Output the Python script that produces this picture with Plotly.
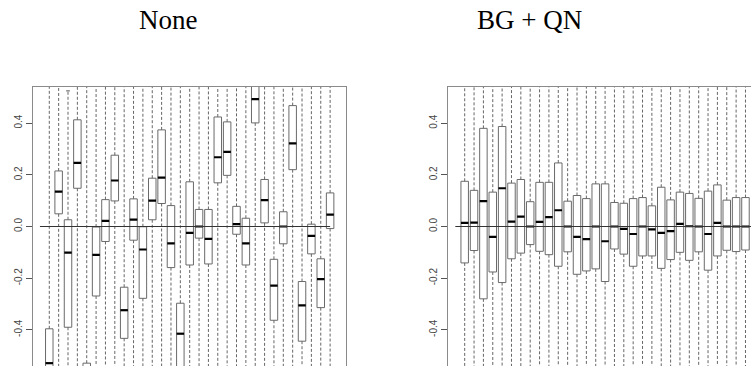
import plotly.graph_objects as go

# ---------------- data ----------------
samples = list(range(1, 32))

# Panel "None"
q3_none = [-0.396, 0.215, 0.026, 0.413, -0.529, -0.002, 0.104, 0.276, -0.235, 0.107,
           -0.001, 0.187, 0.374, 0.081, -0.297, 0.173, 0.066, 0.066, 0.424, 0.405,
           0.078, 0.032, 0.600, 0.182, -0.127, 0.057, 0.468, -0.213, 0.009, -0.125, 0.130]
med_none = [-0.529, 0.135, -0.101, 0.246, -0.600, -0.110, 0.022, 0.178, -0.324, 0.027,
            -0.089, 0.100, 0.189, -0.065, -0.415, -0.025, 0.000, -0.048, 0.268, 0.289,
            0.009, -0.065, 0.493, 0.102, -0.229, 0.000, 0.322, -0.305, -0.036, -0.204, 0.046]
q1_none = [-0.620, 0.049, -0.390, 0.148, -0.680, -0.269, -0.058, 0.099, -0.433, -0.053,
           -0.278, 0.026, 0.089, -0.159, -0.580, -0.149, -0.045, -0.145, 0.169, 0.198,
           -0.030, -0.149, 0.401, 0.014, -0.363, -0.067, 0.220, -0.444, -0.106, -0.314, -0.008]
hi_none = [0.70, 0.75, 0.525, 0.80, 0.65, 0.72, 0.70, 0.78, 0.66, 0.70,
           0.72, 0.74, 0.80, 0.70, 0.62, 0.76, 0.70, 0.71, 0.82, 0.80,
           0.70, 0.72, 0.90, 0.74, 0.66, 0.70, 0.84, 0.64, 0.70, 0.66, 0.72]
lo_none = [-0.90, -0.70, -0.80, -0.66, -0.95, -0.75, -0.70, -0.64, -0.85, -0.70,
           -0.78, -0.66, -0.64, -0.72, -0.90, -0.74, -0.70, -0.72, -0.62, -0.62,
           -0.70, -0.72, -0.60, -0.66, -0.80, -0.70, -0.62, -0.86, -0.70, -0.78, -0.68]

# Panel "BG + QN"
q3_bg = [0.175, 0.140, 0.380, 0.133, 0.387, 0.168, 0.182, 0.096, 0.171, 0.171,
         0.246, 0.098, 0.120, 0.108, 0.165, 0.165, 0.093, 0.090, 0.108, 0.112,
         0.080, 0.152, 0.103, 0.133, 0.128, 0.109, 0.137, 0.161, 0.102, 0.112, 0.112]
med_bg = [0.014, 0.015, 0.098, -0.040, 0.148, 0.019, 0.038, 0.000, 0.018, 0.036,
          0.063, 0.000, -0.040, -0.049, 0.000, -0.057, 0.000, -0.009, -0.029, 0.000,
          -0.011, -0.025, -0.018, 0.010, 0.001, 0.000, -0.029, 0.014, 0.000, 0.000, 0.000]
q1_bg = [-0.141, -0.093, -0.280, -0.176, -0.217, -0.125, -0.103, -0.070, -0.096, -0.109,
         -0.154, -0.098, -0.185, -0.172, -0.164, -0.213, -0.087, -0.107, -0.154, -0.114,
         -0.114, -0.162, -0.128, -0.100, -0.131, -0.098, -0.169, -0.114, -0.092, -0.097, -0.091]
hi_bg = [0.70, 0.65, 0.80, 0.66, 0.82, 0.68, 0.70, 0.62, 0.66, 0.68,
         0.72, 0.62, 0.64, 0.63, 0.66, 0.68, 0.62, 0.61, 0.63, 0.64,
         0.60, 0.66, 0.63, 0.64, 0.64, 0.62, 0.65, 0.66, 0.62, 0.63, 0.63]
lo_bg = [-0.66, -0.62, -0.80, -0.68, -0.72, -0.64, -0.63, -0.60, -0.62, -0.63,
         -0.66, -0.62, -0.68, -0.67, -0.66, -0.70, -0.61, -0.62, -0.66, -0.63,
         -0.63, -0.66, -0.64, -0.62, -0.64, -0.62, -0.67, -0.63, -0.61, -0.62, -0.61]

titles = ["None", "BG + QN"]
tick_vals = [-0.4, -0.2, 0.0, 0.2, 0.4]
tick_text = ["-0.4", "-0.2", "0.0", "0.2", "0.4"]

BOXW = 0.8
CAPW = 0.4

fig = go.Figure()


def add_panel(q1, med, q3, lo, hi, xa, ya, zero_end):
    # whiskers (dashed)
    wx, wy = [], []
    for x, a, b, l, h in zip(samples, q1, q3, lo, hi):
        wx += [x, x, None, x, x, None]
        wy += [b, h, None, a, l, None]
    fig.add_trace(go.Scatter(x=wx, y=wy, mode="lines", xaxis=xa, yaxis=ya,
                             line=dict(color="#666666", width=1, dash="3px,2px"),
                             hoverinfo="skip", showlegend=False))
    # whisker caps
    cx, cy = [], []
    for x, l, h in zip(samples, lo, hi):
        cx += [x - CAPW / 2, x + CAPW / 2, None, x - CAPW / 2, x + CAPW / 2, None]
        cy += [h, h, None, l, l, None]
    fig.add_trace(go.Scatter(x=cx, y=cy, mode="lines", xaxis=xa, yaxis=ya,
                             line=dict(color="#555555", width=1),
                             hoverinfo="skip", showlegend=False))
    # boxes
    fig.add_trace(go.Bar(x=samples, base=q1, y=[b - a for a, b in zip(q1, q3)],
                         width=BOXW, xaxis=xa, yaxis=ya,
                         marker=dict(color="white", line=dict(color="#6a6a6a", width=1)),
                         hoverinfo="skip", showlegend=False))
    # medians
    mx, my = [], []
    for x, m in zip(samples, med):
        mx += [x - BOXW / 2, x + BOXW / 2, None]
        my += [m, m, None]
    fig.add_trace(go.Scatter(x=mx, y=my, mode="lines", xaxis=xa, yaxis=ya,
                             line=dict(color="black", width=2.2),
                             hoverinfo="skip", showlegend=False))
    # zero reference line
    fig.add_trace(go.Scatter(x=[0, zero_end], y=[0, 0], mode="lines", xaxis=xa, yaxis=ya,
                             line=dict(color="#333333", width=1),
                             hoverinfo="skip", showlegend=False))


add_panel(q1_none, med_none, q3_none, lo_none, hi_none, "x", "y", 31)
add_panel(q1_bg, med_bg, q3_bg, lo_bg, hi_bg, "x2", "y2", 32)

W, H = 751, 366
frame_col = "#8a8a8a"
ydom = [0, 279.0 / H]
xcommon = dict(showgrid=False, zeroline=False, showticklabels=False, ticks="",
               showline=True, linecolor=frame_col, linewidth=1, mirror=True)
ycommon = dict(showgrid=False, zeroline=False, range=[-0.54, 0.54], domain=ydom,
               tickmode="array", tickvals=tick_vals, ticktext=tick_text,
               tickangle=-90, ticks="outside", ticklen=6, tickcolor="#555555",
               tickfont=dict(family="Liberation Sans, Arial, sans-serif", size=10, color="#444444"),
               showline=True, linecolor=frame_col, linewidth=1)

fig.update_layout(
    width=W, height=H,
    margin=dict(l=0, r=0, t=0, b=0),
    paper_bgcolor="white", plot_bgcolor="white",
    barmode="overlay",
    hovermode=False,
    xaxis=dict(domain=[33.0 / W, 346.4 / W], range=[-0.74, 32.74], **xcommon),
    yaxis=dict(anchor="x", mirror=True, **ycommon),
    xaxis2=dict(domain=[448.4 / W, 1.0], range=[-0.74, 31.59], anchor="y2", **xcommon),
    yaxis2=dict(anchor="x2", mirror=False, **ycommon),
    annotations=[
        dict(text=titles[0], x=168.3 / W, y=1 - 19.5 / H, xref="paper", yref="paper",
             xanchor="center", yanchor="middle", showarrow=False,
             font=dict(family="Liberation Serif, serif", size=27, color="black")),
        dict(text=titles[1], x=529.0 / W, y=1 - 19.5 / H, xref="paper", yref="paper",
             xanchor="center", yanchor="middle", showarrow=False,
             font=dict(family="Liberation Serif, serif", size=27, color="black")),
    ],
)

fig.write_html("out.html", config={"displayModeBar": False},
               post_script="document.body.style.margin='0px';")
